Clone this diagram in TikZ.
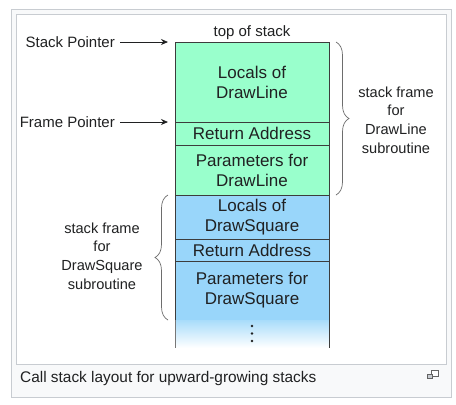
\documentclass[tikz,border=0pt]{standalone}
\usepackage{fontspec}
\setmainfont{Liberation Sans}
\usetikzlibrary{arrows.meta,positioning,decorations.pathreplacing}
\definecolor{ink}{HTML}{202122}
\definecolor{rule}{HTML}{3C3C3C}
\definecolor{thumb}{HTML}{C8CCD1}
\definecolor{capbg}{HTML}{F8F9FA}
\definecolor{linegreen}{HTML}{99FFCC}
\definecolor{squareblue}{HTML}{99D6FA}
\tikzset{
  >=Stealth,
  every node/.style={text=ink},
  cell/.style={draw=rule,line width=0.8pt,minimum width=154pt,inner sep=0pt,outer sep=0pt,align=center,font=\fontsize{17}{20}\selectfont},
  linecell/.style={cell,fill=linegreen},
  squarecell/.style={cell,fill=squareblue},
  ptrlabel/.style={font=\fontsize{15}{18}\selectfont,inner sep=0pt,anchor=east},
  ptr/.style={-{Stealth[length=7pt,width=6pt]},line width=0.8pt,draw=ink,shorten <=5pt,shorten >=7pt},
  framelabel/.style={align=center,font=\fontsize{14.6}{18.8}\selectfont,inner sep=0pt},
  framebrace/.style={draw=rule!75,line width=0.7pt,decorate,decoration={brace,amplitude=13pt}},
}

\begin{document}
\begin{tikzpicture}[x=1pt,y=-1pt]
\useasboundingbox (0,0) rectangle (456,405);

\draw[thumb,fill=capbg] (11,9) rectangle (451,397);
\draw[thumb,fill=white] (16,14) rectangle (446,364);

\node[linecell,minimum height=80pt,anchor=north] (localsLine) at (252,42) {Locals of\\DrawLine};
\node[linecell,minimum height=23pt,below=0pt of localsLine] (retLine) {Return Address};
\node[linecell,minimum height=50pt,below=0pt of retLine] (paramsLine) {Parameters for\\DrawLine};
\node[squarecell,minimum height=44pt,below=0pt of paramsLine] (localsSquare) {Locals of\\DrawSquare};
\node[squarecell,minimum height=22pt,below=0pt of localsSquare] (retSquare) {Return Address};
\node[squarecell,minimum height=59pt,below=0pt of retSquare] (paramsSquare) {Parameters for\\DrawSquare};
\node[minimum width=154pt,minimum height=28pt,inner sep=0pt,outer sep=0pt,top color=squareblue!85,bottom color=white,below=0pt of paramsSquare] (more) {};
\draw[rule!70,line width=0.8pt] (more.north west) -- (more.south west);
\draw[rule,line width=0.8pt] (more.north east) -- (more.south east);
\foreach \d in {6,13.5,21}
  \fill[ink] (more.north) ++(0,\d) circle (1.4pt);

\node[font=\fontsize{15}{18}\selectfont,above=2pt of localsLine.north,inner sep=0pt] (top) {top of stack};

\node[ptrlabel] (sp) at (115,42) {Stack Pointer};
\node[ptrlabel] (fp) at (115,122) {Frame Pointer};
\draw[ptr] (sp.east) -- (sp.east -| localsLine.west);
\draw[ptr] (fp.east) -- (fp.east -| retLine.west);

\draw[framebrace] ([xshift=7pt]localsLine.north east) -- ([xshift=7pt]paramsLine.south east) coordinate (lineBraceEnd);
\node[framelabel] (lineFrame) at (396,120) {stack frame\\for\\DrawLine\\subroutine};
\draw[framebrace] ([xshift=-7pt]paramsSquare.south west) -- ([xshift=-7pt]localsSquare.north west);
\node[framelabel] (squareFrame) at (102,256) {stack frame\\for\\DrawSquare\\subroutine};

\node[anchor=west,inner sep=0pt,font=\fontsize{15.4}{18}\selectfont] (caption) at (20,379) {Call stack layout for upward-growing stacks};
\draw[rule!80,line width=0.9pt,fill=white] (431,370) rectangle (438,376);
\draw[rule!80,line width=0.9pt,fill=thumb] (427,374) rectangle (432,378.5);

\end{tikzpicture}
\end{document}
